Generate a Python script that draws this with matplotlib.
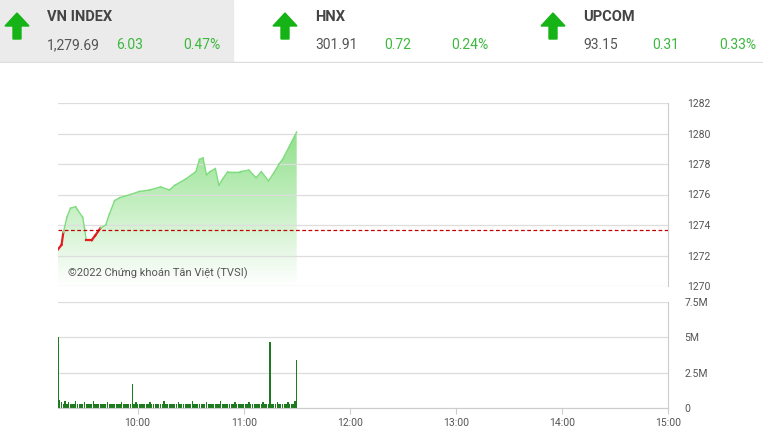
import numpy as np
import matplotlib
matplotlib.use("Agg")
import matplotlib.pyplot as plt
from matplotlib.patches import Polygon, Rectangle

plt.rcParams["font.family"] = ["Roboto", "DejaVu Sans"]

# header quotes
indices = ["VN INDEX", "HNX", "UPCOM"]
levels = ["1,279.69", "301.91", "93.15"]
changes = ["6.03", "0.72", "0.31"]
pcts = ["0.47%", "0.24%", "0.33%"]

# intraday index (minutes after 09:15)
price_min = [0, 2, 3, 5, 7, 10, 11, 14, 15, 16, 19, 21, 24, 27, 29, 32, 35, 41, 46,
             52, 58, 63, 66, 72, 78, 80, 82, 84, 86, 89, 91, 93, 96, 103, 108, 112,
             115, 119, 122, 125, 127, 131, 135]
price = [1272.4, 1272.7, 1273.5, 1274.5, 1275.1, 1275.2, 1275.0, 1274.5, 1273.8,
         1273.0, 1273.0, 1273.3, 1273.8, 1274.0, 1274.7, 1275.6, 1275.8, 1276.0,
         1276.2, 1276.3, 1276.5, 1276.3, 1276.6, 1277.0, 1277.5, 1278.3, 1278.4,
         1277.3, 1277.5, 1277.7, 1276.6, 1277.0, 1277.5, 1277.5, 1277.6, 1277.1,
         1277.5, 1276.9, 1277.4, 1278.0, 1278.3, 1279.2, 1280.1]
ref_price = 1273.68

# volume spikes (minute, millions) on a low background
vol_min = [0, 1, 2, 3, 4, 5, 6, 8, 10, 12, 15, 18, 20, 24, 28, 32, 36, 40, 42, 44,
           48, 52, 56, 60, 64, 68, 72, 76, 80, 84, 88, 92, 96, 100, 104, 108, 112,
           116, 118, 120, 122, 124, 126, 128, 130, 132, 134, 135]
vol = [5.0, 0.6, 0.4, 0.3, 0.5, 0.3, 0.4, 0.3, 0.5, 0.3, 0.4, 0.3, 0.5, 0.3, 0.4,
       0.3, 0.4, 0.3, 1.7, 0.4, 0.3, 0.4, 0.3, 0.5, 0.3, 0.4, 0.3, 0.5, 0.3, 0.4,
       0.3, 0.5, 0.3, 0.4, 0.3, 0.4, 0.3, 0.4, 0.3, 4.7, 0.3, 0.4, 0.3, 0.3, 0.4,
       0.3, 0.5, 3.4]

hour_ticks = [45, 105, 165, 225, 285, 345]
hour_labels = ["10:00", "11:00", "12:00", "13:00", "14:00", "15:00"]

fig = plt.figure(figsize=(7.63, 4.42), dpi=100)

# header
hdr = fig.add_axes([0, 1 - 63 / 442, 1, 63 / 442])
hdr.set_xlim(0, 763)
hdr.set_ylim(63, 0)
hdr.axis("off")
hdr.add_patch(Rectangle((0, 0), 233, 62, color="#ebebeb"))
hdr.plot([0, 763], [62, 62], color="#dddddd", lw=1)
for i, x0 in enumerate([0, 268, 536]):
    ax0 = x0 + 17
    hdr.add_patch(Polygon([[ax0 - 12, 26], [ax0, 13], [ax0 + 12, 26], [ax0 + 4, 26],
                           [ax0 + 4, 39], [ax0 - 4, 39], [ax0 - 4, 26]], color="#16b316"))
    hdr.text(x0 + 47, 17, indices[i], fontsize=10.5, fontweight="bold", color="#444444",
             va="center")
    hdr.text(x0 + 47, 45, levels[i], fontsize=10, color="#555555", va="center")
    hdr.text(x0 + 116, 45, changes[i], fontsize=10, color="#3cb83c", va="center")
    hdr.text(x0 + 220, 45, pcts[i], fontsize=10, color="#3cb83c", va="center", ha="right")

# price chart
ax = fig.add_axes([58 / 763, 1 - 286 / 442, 610 / 763, 183 / 442])
t = np.array(price_min)
p = np.array(price)
ax.set_xlim(0, 345)
ax.set_ylim(1270, 1282)
grad = np.linspace(0, 1, 256).reshape(-1, 1)
img = ax.imshow(grad, extent=[0, 135, 1270, 1280.2], origin="lower", aspect="auto",
                cmap=matplotlib.colors.LinearSegmentedColormap.from_list(
                    "g", ["#ffffff", "#8fe08a"]), zorder=1)
poly = Polygon(np.column_stack([np.r_[t, t[-1], t[0]], np.r_[p, 1270, 1270]]),
               closed=True, facecolor="none", edgecolor="none")
ax.add_patch(poly)
img.set_clip_path(poly)
# line, red below reference
for i in range(len(t) - 1):
    c = "#e02020" if (p[i] < ref_price and p[i + 1] < ref_price + 0.2) else "#7fdc7f"
    ax.plot(t[i:i + 2], p[i:i + 2], color=c, lw=1.6 if c == "#e02020" else 1.0, zorder=3)
ax.axhline(ref_price, color="#c00000", lw=0.9, ls=(0, (3, 2)), zorder=4)
ax.set_yticks([1270, 1272, 1274, 1276, 1278, 1280, 1282])
ax.yaxis.tick_right()
ax.set_xticks([])
ax.grid(axis="y", color="#dddddd", lw=0.9)
for s in ["top", "left", "bottom"]:
    ax.spines[s].set_visible(False)
ax.spines["right"].set_color("#cccccc")
ax.tick_params(axis="y", length=0, pad=14, labelsize=7.5, labelcolor="#555555")
ax.text(5.5, 1270.6, "©2022 Chứng khoán Tân Việt (TVSI)", fontsize=8, color="#555555")

# volume chart
vx = fig.add_axes([58 / 763, 1 - 408 / 442, 610 / 763, 106 / 442])
vx.set_xlim(0, 345)
vx.set_ylim(0, 7.5)
bg = np.arange(0, 136)
vx.bar(bg, np.full(len(bg), 0.25), width=0.8, color="#1e7a1e")
vx.bar(vol_min, vol, width=0.8, color="#1e7a1e")
vx.set_yticks([0, 2.5, 5, 7.5])
vx.set_yticklabels(["0", "2.5M", "5M", "7.5M"])
vx.yaxis.tick_right()
vx.grid(axis="y", color="#dddddd", lw=0.9)
vx.set_axisbelow(True)
vx.set_xticks(hour_ticks)
vx.set_xticklabels(hour_labels)
for s in ["top", "left"]:
    vx.spines[s].set_visible(False)
vx.spines["right"].set_color("#cccccc")
vx.spines["bottom"].set_color("#cccccc")
vx.tick_params(axis="y", length=0, pad=12, labelsize=7.5, labelcolor="#555555")
vx.tick_params(axis="x", length=4, color="#cccccc", labelsize=7.5, labelcolor="#555555")

fig.savefig("out.png", dpi=100)
